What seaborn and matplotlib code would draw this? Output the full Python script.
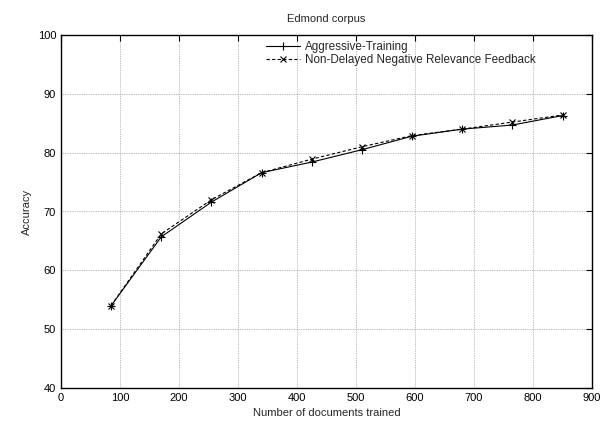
import matplotlib
matplotlib.use("Agg")
import matplotlib.pyplot as plt
import seaborn as sns

docs = [85, 170, 255, 340, 425, 510, 595, 680, 765, 850]
aggressive = [54.0, 65.7, 71.6, 76.6, 78.4, 80.5, 82.8, 84.0, 84.7, 86.3]
non_delayed = [54.0, 66.2, 72.0, 76.6, 78.9, 81.0, 82.9, 84.0, 85.2, 86.4]
series_names = ["Aggressive-Training", "Non-Delayed Negative Relevance Feedback"]

sns.set_style("white")
plt.rcParams['font.family'] = ['Liberation Sans', 'DejaVu Sans']
plt.rcParams['font.size'] = 8

fig = plt.figure(figsize=(6.03, 4.25), dpi=100)
ax = fig.add_axes([61/603, 1 - 388/425, (592-61)/603, (388-35)/425])

sns.lineplot(x=docs, y=aggressive, ax=ax, color="black", linestyle="-",
             marker="+", markersize=5.5, markeredgewidth=0.8, markeredgecolor="black",
             linewidth=0.8, label=series_names[0])
sns.lineplot(x=docs, y=non_delayed, ax=ax, color="black", linestyle=(0, (3, 2)),
             marker="x", markersize=4, markeredgewidth=0.8, markeredgecolor="black",
             linewidth=0.8, label=series_names[1])

ax.set_xlim(0, 900)
ax.set_ylim(40, 100)
ax.set_xticks(range(0, 901, 100))
ax.set_yticks(range(40, 101, 10))
ax.grid(True, color="#808080", linestyle=(0, (1, 1.5)), linewidth=0.5)
ax.tick_params(direction="in", top=True, right=True, length=4, width=0.8, labelsize=8, colors="black")
for s in ax.spines.values():
    s.set_color("black")
    s.set_linewidth(1.0)
ax.set_xlabel("Number of documents trained", fontsize=8)
ax.set_ylabel("Accuracy", fontsize=8)
ax.set_title("Edmond corpus", fontsize=8, pad=9)

leg = ax.legend(loc="upper left", bbox_to_anchor=(205/531, 0.983), frameon=False,
                fontsize=8.4, handlelength=2.9, handletextpad=0.45,
                borderpad=0, borderaxespad=0, labelspacing=0.12)

fig.savefig("out.png", dpi=100, facecolor="white")
